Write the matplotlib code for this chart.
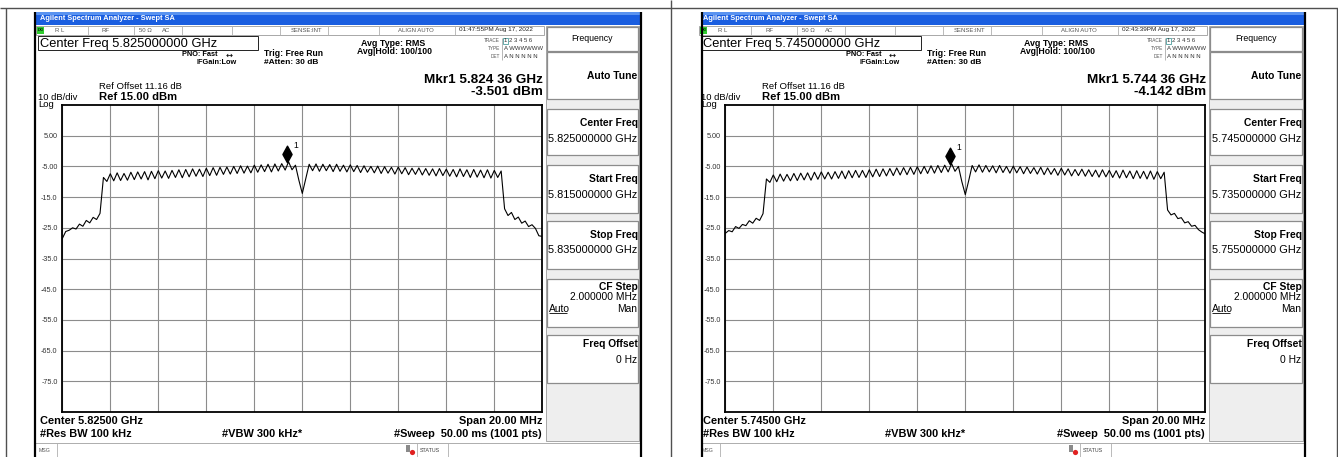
import numpy as np
import matplotlib
matplotlib.use("Agg")
import matplotlib.pyplot as plt
from matplotlib.patches import Rectangle, Circle
from matplotlib.path import Path
import matplotlib.transforms as mtransforms

# ---------------- data ----------------
center_ghz = [5.825, 5.745]
start_ghz = [5.815, 5.735]
stop_ghz = [5.835, 5.755]
span_mhz = 20.0
n_points = 141
timestamps = ["01:47:55PM Aug 17, 2022", "02:43:39PM Aug 17, 2022"]
center_freq_text = ["Center Freq 5.825000000 GHz", "Center Freq 5.745000000 GHz"]
center_bottom_text = ["Center 5.82500 GHz", "Center 5.74500 GHz"]
mkr_freq_text = ["Mkr1 5.824 36 GHz", "Mkr1 5.744 36 GHz"]
mkr_level_text = ["-3.501 dBm", "-4.142 dBm"]
marker_freq_ghz = [5.82436, 5.74436]
marker_level_dbm = [-3.501, -4.142]
softkey_center = ["5.825000000 GHz", "5.745000000 GHz"]
softkey_start = ["5.815000000 GHz", "5.735000000 GHz"]
softkey_stop = ["5.835000000 GHz", "5.755000000 GHz"]
y_ticks = [5, -5, -15, -25, -35, -45, -55, -65, -75]
y_tick_labels = ["5.00", "-5.00", "-15.0", "-25.0", "-35.0", "-45.0", "-55.0", "-65.0", "-75.0"]

trace_a = [
    -28.5, -26.2, -25.8, -25.0, -25.4, -23.8, -24.5, -22.6, -23.4, -21.6, -22.3, -20.3,
    -8.6, -9.9, -7.4, -9.7, -7.1, -9.6, -7.3, -9.5, -6.9, -9.3, -6.8, -9.1, -6.7, -9.4,
    -6.6, -9.0, -6.4, -8.8, -6.5, -8.9, -6.3, -8.6, -6.1, -8.7, -6.0, -8.4, -5.8, -8.2,
    -5.9, -8.3, -5.6, -8.0, -5.4, -7.9, -5.3, -7.6, -5.2, -7.5, -5.0, -7.3, -4.8, -7.2,
    -4.9, -7.1, -4.6, -6.9, -4.5, -6.7, -4.3, -6.8, -4.2, -6.5, -4.1, -6.2, -3.5, -6.1,
    -4.6, -9.5, -13.8, -9.0,
    -4.3, -6.4, -4.2, -6.6, -4.3, -6.4, -4.4, -6.7, -4.3, -6.6, -4.6, -6.8, -4.5, -6.7,
    -4.7, -7.0, -4.8, -6.9, -5.0, -7.1, -4.9, -7.3, -5.1, -7.2, -5.3, -7.5, -5.2, -7.4,
    -5.4, -7.7, -5.6, -7.6, -5.5, -7.8, -5.7, -7.9, -5.8, -8.1, -5.7, -8.0, -5.9, -8.2,
    -6.0, -8.4, -5.8, -8.3, -6.1, -8.6, -6.0, -8.5, -6.2, -8.7, -6.1, -8.8, -6.3, -8.6,
    -6.5,
    -18.8, -21.0, -20.0, -22.3, -21.5, -23.5, -22.8, -24.6, -24.0, -25.2, -27.6, -27.8,
]
trace_b = [
    -26.8, -25.9, -26.3, -24.6, -25.2, -23.9, -24.3, -22.7, -23.5, -21.9, -22.6, -20.4,
    -9.1, -10.2, -7.8, -10.0, -7.5, -9.8, -7.6, -9.7, -7.3, -9.6, -7.2, -9.4, -7.1, -9.5,
    -6.9, -9.2, -6.8, -9.1, -6.9, -9.1, -6.7, -8.9, -6.5, -9.0, -6.4, -8.7, -6.3, -8.6,
    -6.3, -8.6, -6.1, -8.4, -5.9, -8.3, -5.8, -8.1, -5.7, -8.0, -5.5, -7.8, -5.4, -7.7,
    -5.3, -7.6, -5.1, -7.4, -5.0, -7.3, -4.8, -7.2, -4.7, -7.0, -4.6, -6.8, -4.1, -6.6,
    -5.0, -10.0, -14.2, -9.6,
    -4.7, -6.8, -4.5, -6.9, -4.7, -6.8, -4.8, -7.1, -4.7, -7.0, -5.0, -7.2, -4.9, -7.1,
    -5.1, -7.4, -5.2, -7.3, -5.4, -7.5, -5.3, -7.7, -5.5, -7.6, -5.7, -7.9, -5.6, -7.8,
    -5.8, -8.1, -6.0, -8.0, -5.9, -8.2, -6.1, -8.3, -6.2, -8.5, -6.1, -8.4, -6.3, -8.6,
    -6.4, -8.8, -6.2, -8.7, -6.5, -9.0, -6.4, -8.9, -6.6, -9.1, -6.5, -9.2, -6.7, -9.0,
    -6.9,
    -19.2, -20.8, -20.3, -22.0, -21.7, -23.4, -23.0, -24.5, -24.2, -25.6, -26.4, -27.0,
]
traces = [trace_a, trace_b]

# ---------------- figure ----------------
W, H = 1338, 457
plt.rcParams['font.family'] = ['Liberation Sans', 'DejaVu Sans']
fig = plt.figure(figsize=(W / 100, H / 100), dpi=100)
fig.patch.set_facecolor('white')
ax0 = fig.add_axes([0, 0, 1, 1])
ax0.set_xlim(0, W)
ax0.set_ylim(H, 0)
ax0.axis('off')


def rect(x0, y0, x1, y1, fc='none', ec='none', lw=0.0, z=1):
    ax0.add_patch(Rectangle((x0, y0), x1 - x0, y1 - y0, facecolor=fc,
                            edgecolor=ec, linewidth=lw, zorder=z))


def line(x0, y0, x1, y1, color='#000000', lw=0.8, z=3):
    ax0.plot([x0, x1], [y0, y1], color=color, lw=lw, solid_capstyle='butt', zorder=z)


def tx(x, y, s, size, ha='left', weight='normal', color='#000000', family=None, z=5):
    kw = {}
    if family is not None:
        kw['family'] = family
    ax0.text(x, y, s, fontsize=size, ha=ha, va='center', fontweight=weight,
             color=color, zorder=z, **kw)


# outer table frame
line(0, 8, W, 8, '#505050', 1.0)
line(5.5, 8, 5.5, H, '#505050', 1.0)
line(671, 0, 671, H, '#505050', 1.0)
line(1336.5, 8, 1336.5, H, '#505050', 1.0)

diamond = Path([(0, 1), (0.55, 0), (0, -1), (-0.55, 0), (0, 1)],
               [Path.MOVETO, Path.LINETO, Path.LINETO, Path.LINETO, Path.CLOSEPOLY])


def screen(k, dx, xl, xr):
    X = lambda x: x + dx
    rect(xl, 12, xr, H, fc='white', z=0.5)
    # title bar
    rect(xl, 12, xr, 25, fc='#1a5ee0', z=1)
    rect(xl, 12, xr, 15, fc='#5a93f0', z=1.1)
    tx(X(40), 19, "Agilent Spectrum Analyzer - Swept SA", 5.3, weight='bold', color='white')
    # status row
    rect(X(36), 25.5, X(544), 34.5, fc='white', ec='#9a9a9a', lw=0.6, z=1.2)
    for xd in [87.5, 134, 182, 232, 280, 328, 378.6, 455]:
        line(X(xd), 25.5, X(xd), 34.5, '#b0b0b0', 0.6)
    rect(X(37), 26.5, X(44), 33.5, fc='#2ecc2e', z=2)
    tx(X(40.5), 30, "LXI", 2.6, ha='center', weight='bold')
    for xs, s in [(55, "R L"), (102, "RF"), (139, "50 \u03a9"), (162, "AC"),
                  (291, "SENSE:INT"), (398, "ALIGN AUTO")]:
        tx(X(xs), 30, s, 4.3, color='#555555')
    tx(X(459), 30, timestamps[k], 4.6, color='#222222')

    # softkey panel
    sx0, sx1 = X(546), xr - 2
    rect(sx0, 25.5, sx1, 441, fc='#eeeeee', ec='#9a9a9a', lw=0.6, z=1.2)
    boxes = [(27, 51), (52, 99), (109, 155), (165, 213), (221, 269), (279, 327), (335, 383)]
    for t, b in boxes:
        rect(sx0 + 1, t, sx1 - 0.5, b, fc='white', ec='#8c8c8c', lw=0.9, z=1.5)
    tr = sx1 - 1
    tx((sx0 + sx1) / 2, 38.5, "Frequency", 6.3, ha='center')
    tx(tr, 76, "Auto Tune", 7.4, ha='right', weight='bold')
    tx(tr, 123.5, "Center Freq", 7.4, ha='right', weight='bold')
    tx(tr, 139, softkey_center[k], 7.9, ha='right')
    tx(tr, 179, "Start Freq", 7.4, ha='right', weight='bold')
    tx(tr, 194.5, softkey_start[k], 7.9, ha='right')
    tx(tr, 234.5, "Stop Freq", 7.4, ha='right', weight='bold')
    tx(tr, 250, softkey_stop[k], 7.9, ha='right')
    tx(tr, 287, "CF Step", 7.4, ha='right', weight='bold')
    tx(tr, 297.5, "2.000000 MHz", 7.4, ha='right')
    tx(sx0 + 2.5, 308.5, "Auto", 7.4)
    line(sx0 + 2.5, 313, sx0 + 21, 313, '#000000', 0.6)
    tx(tr, 308.5, "Man", 7.4, ha='right')
    tx(tr, 344, "Freq Offset", 7.4, ha='right', weight='bold')
    tx(tr, 360, "0 Hz", 7.4, ha='right')

    # header texts
    rect(X(38), 36, X(258), 50, fc='white', ec='#222222', lw=0.7, z=1.5)
    tx(X(40), 43.5, center_freq_text[k], 9.3)
    tx(X(218), 55, "PNO: Fast", 5.3, ha='right', weight='bold')
    tx(X(229), 55, "\u2194", 6.0, ha='center', family='DejaVu Sans')
    tx(X(237), 63, "IFGain:Low", 5.3, ha='right', weight='bold')
    tx(X(264), 53, "Trig: Free Run", 6.2, weight='bold')
    tx(X(264), 62.5, "#Atten: 30 dB", 6.0, weight='bold')
    tx(X(361), 43, "Avg Type: RMS", 6.4, weight='bold')
    tx(X(357), 52, "Avg|Hold: 100/100", 6.2, weight='bold')
    for yy, lab, val in [(41, "TRACE", "1 2 3 4 5 6"), (48.5, "TYPE", "A WWWWWW"),
                         (56, "DET", "A N N N N N")]:
        tx(X(500), yy, lab, 3.4, ha='right', color='#555555')
        tx(X(504), yy, val, 4.3, color='#333333')
    line(X(502), 37.5, X(502), 59.5, '#9a9a9a', 0.5)
    rect(X(503.3), 38, X(507.5), 44, ec='#2a8a8a', lw=0.5, z=4)
    tx(X(543), 80, mkr_freq_text[k], 9.7, ha='right', weight='bold')
    tx(X(543), 92, mkr_level_text[k], 9.7, ha='right', weight='bold')
    tx(X(99), 86.5, "Ref Offset 11.16 dB", 6.8)
    tx(X(99), 97, "Ref 15.00 dBm", 8.1, weight='bold')
    tx(X(38), 98, "10 dB/div", 6.8)
    tx(X(38), 104.5, "Log", 6.8)

    # bottom texts
    tx(X(40), 420.5, center_bottom_text[k], 7.9, weight='bold')
    tx(X(542), 420.5, "Span 20.00 MHz", 7.9, ha='right', weight='bold')
    tx(X(40), 434, "#Res BW 100 kHz", 7.9, weight='bold')
    tx(X(222), 434, "#VBW 300 kHz*", 7.9, weight='bold')
    tx(X(542), 434, "#Sweep  50.00 ms (1001 pts)", 7.9, ha='right', weight='bold')

    # bottom status bar
    line(xl, 442.5, xr, 442.5, '#a0a0a0', 0.6)
    for xd in [57, 416.7, 448]:
        line(X(xd), 442.5, X(xd), H, '#b0b0b0', 0.6)
    tx(X(39), 450, "MSG", 3.8, color='#555555')
    rect(X(406), 445, X(410), 452, fc='#8a8a8a', z=4)
    ax0.add_patch(Circle((X(412.5), 452.5), 2.6, facecolor='#e02020', edgecolor='none', zorder=5))
    tx(X(420), 450, "STATUS", 3.9, color='#444444')

    # screen borders
    line(xl, 12, xl, H, '#000000', 1.6, z=6)
    line(xr, 12, xr, H, '#000000', 1.6, z=6)

    # ---------------- spectrum plot ----------------
    left_px, right_px, top_px, bot_px = 62.3 + dx, 542.3 + dx, 105.0, 412.0
    axp = fig.add_axes([left_px / W, 1 - bot_px / H, (right_px - left_px) / W,
                        (bot_px - top_px) / H])
    freqs = center_ghz[k] + np.linspace(-span_mhz / 2, span_mhz / 2, n_points) / 1000.0
    axp.set_xlim(start_ghz[k], stop_ghz[k])
    axp.set_ylim(-85, 15)
    axp.set_xticks(np.linspace(start_ghz[k], stop_ghz[k], 11))
    axp.set_xticklabels([])
    axp.set_yticks(y_ticks)
    axp.set_yticklabels(y_tick_labels)
    axp.tick_params(axis='both', length=0)
    axp.tick_params(axis='y', pad=3.4, labelsize=5.2, labelcolor='#333333')
    axp.grid(True, color='#8c8c8c', lw=0.8)
    axp.set_axisbelow(True)
    for sp in axp.spines.values():
        sp.set_color('#000000')
        sp.set_linewidth(1.3)
    axp.set_facecolor('white')
    axp.plot(freqs, traces[k], color='#000000', lw=0.8, zorder=3)
    mtr = axp.transData + mtransforms.ScaledTranslation(0, 0.08, fig.dpi_scale_trans)
    axp.plot([marker_freq_ghz[k]], [marker_level_dbm[k]], marker=diamond, markersize=12,
             color='#000000', transform=mtr, zorder=4, clip_on=False)
    ltr = axp.transData + mtransforms.ScaledTranslation(0.065, 0.16, fig.dpi_scale_trans)
    axp.text(marker_freq_ghz[k], marker_level_dbm[k], "1", fontsize=6.2, transform=ltr,
             ha='left', va='center', zorder=4)


screen(0, 0, 35, 640.5)
screen(1, 663, 701.5, 1304.5)

fig.savefig("out.png", dpi=100, facecolor='white')
